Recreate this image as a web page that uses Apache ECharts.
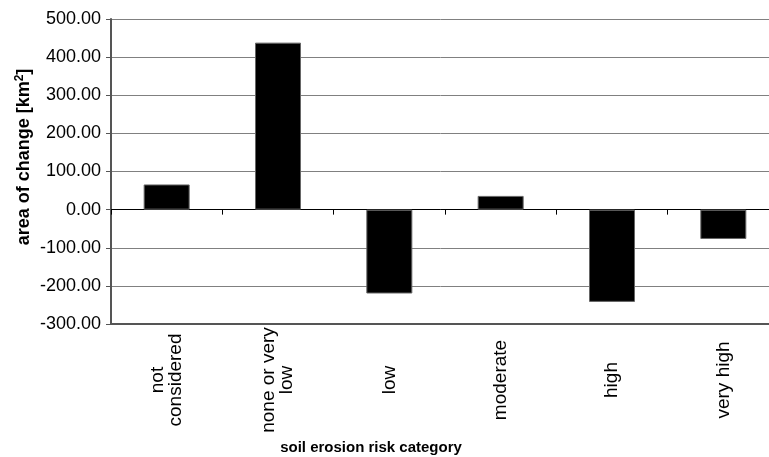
<!DOCTYPE html>
<html>
<head>
<meta charset="utf-8">
<script src="https://cdn.jsdelivr.net/npm/echarts@6/dist/echarts.min.js"></script>
<style>html,body{margin:0;padding:0;background:#fff}#c{width:769px;height:457px}</style>
</head>
<body>
<div id="c"></div>
<script>
const categories = ['not\nconsidered', 'none or very\nlow', 'low', 'moderate', 'high', 'very high'];
const values = [66, 438, -220, 36, -242, -77];
const yMin = -300, yMax = 500, yStep = 100;
const xTitle = 'soil erosion risk category';

const chart = echarts.init(document.getElementById('c'));
const font = 'Liberation Sans, Arial, Helvetica, sans-serif';
chart.setOption({
  animation: false,
  backgroundColor: '#fff',
  grid: { left: 111, width: 668, top: 19, bottom: 133, outerBoundsMode: 'none', containLabel: false },
  xAxis: [
    {
      type: 'category', data: categories, position: 'bottom',
      axisLine: { onZero: false, lineStyle: { color: '#555', width: 2 } },
      axisTick: { show: false },
      axisLabel: {
        rotate: 90, align: 'center', verticalAlign: 'middle', margin: 56,
        fontSize: 19, lineHeight: 18, color: '#000', fontFamily: font, interval: 0
      },
      splitLine: { show: false }
    },
    {
      type: 'category', data: categories, position: 'bottom',
      axisLine: { onZero: true, lineStyle: { color: '#000', width: 1 } },
      axisTick: { show: true, length: 5, lineStyle: { color: '#000', width: 1 } },
      axisLabel: { show: false },
      splitLine: { show: false }
    }
  ],
  yAxis: {
    type: 'value', min: yMin, max: yMax, interval: yStep,
    axisLine: { show: true, lineStyle: { color: '#555', width: 2 } },
    axisTick: { show: true, length: 5, lineStyle: { color: '#555' } },
    axisLabel: {
      formatter: v => v.toFixed(2), fontSize: 18, color: '#000', fontFamily: font, margin: 10
    },
    splitLine: { lineStyle: { color: '#808080', width: 1 } }
  },
  graphic: [
    {
      type: 'text', x: 24, y: 157, rotation: Math.PI / 2,
      style: {
        text: '{a|area of change [km}{s|2}{a|]}',
        align: 'center', verticalAlign: 'middle',
        rich: {
          a: { fontSize: 18, fontWeight: 'bold', fontFamily: font, fill: '#000' },
          s: { fontSize: 12, fontWeight: 'bold', fontFamily: font, fill: '#000', verticalAlign: 'top', padding: [0, 0, 8, 0] }
        }
      }
    },
    {
      type: 'text', x: 371, y: 448,
      style: {
        text: xTitle, align: 'center', verticalAlign: 'middle',
        fontSize: 15, fontWeight: 'bold', fontFamily: font, fill: '#000'
      }
    }
  ],
  series: [{
    type: 'bar', data: values, xAxisIndex: 0, barWidth: 46,
    itemStyle: { color: '#000', borderColor: '#666', borderWidth: 1 }
  }]
});
</script>
</body>
</html>
